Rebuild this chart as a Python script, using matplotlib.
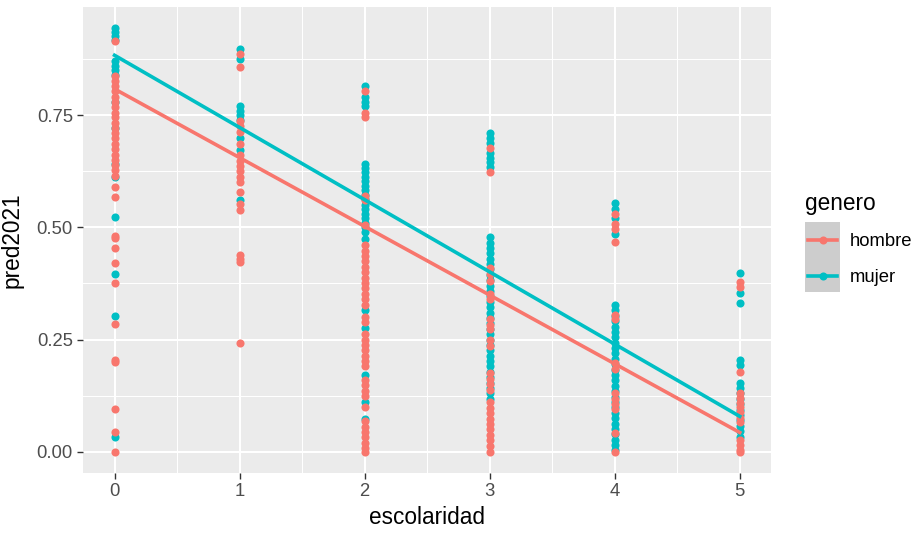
import numpy as np
import matplotlib.pyplot as plt
from matplotlib.patches import Rectangle
from matplotlib.lines import Line2D

plt.rcParams['font.family'] = ['Liberation Sans', 'DejaVu Sans']

# pred2021 values per escolaridad level
hombre_y = {
    0: [0.914, 0.836, 0.825, 0.815, 0.803, 0.79, 0.78, 0.768, 0.755, 0.745, 0.733,
        0.72, 0.71, 0.698, 0.686, 0.675, 0.662, 0.65, 0.638, 0.628, 0.615, 0.59, 0.567,
        0.48, 0.476, 0.453, 0.42, 0.375, 0.284, 0.204, 0.2, 0.096, 0.045, 0.0],
    1: [0.885, 0.856, 0.737, 0.725, 0.713, 0.685, 0.66, 0.648, 0.636, 0.625, 0.612,
        0.6, 0.578, 0.552, 0.538, 0.438, 0.43, 0.423, 0.243],
    2: [0.803, 0.755, 0.745, 0.57, 0.56, 0.505, 0.46, 0.448, 0.436, 0.424, 0.412,
        0.4, 0.388, 0.376, 0.364, 0.352, 0.34, 0.328, 0.3, 0.288, 0.262, 0.25, 0.238,
        0.226, 0.214, 0.202, 0.19, 0.16, 0.148, 0.136, 0.124, 0.1, 0.068, 0.056,
        0.044, 0.032, 0.02, 0.008, 0.0],
    3: [0.676, 0.622, 0.41, 0.395, 0.38, 0.352, 0.34, 0.295, 0.283, 0.273, 0.25,
        0.236, 0.176, 0.163, 0.15, 0.138, 0.11, 0.098, 0.086, 0.074, 0.062, 0.05,
        0.038, 0.026, 0.014, 0.0],
    4: [0.53, 0.507, 0.497, 0.468, 0.305, 0.295, 0.198, 0.185, 0.13, 0.118, 0.106,
        0.095, 0.042, 0.0],
    5: [0.378, 0.367, 0.178, 0.132, 0.12, 0.108, 0.1, 0.088, 0.076, 0.066, 0.027,
        0.015, 0.005, 0.0],
}
mujer_y = {
    0: [0.944, 0.935, 0.926, 0.918, 0.87, 0.86, 0.85, 0.84, 0.78, 0.72, 0.642,
        0.611, 0.522, 0.395, 0.302, 0.032],
    1: [0.898, 0.875, 0.771, 0.76, 0.75, 0.74, 0.698, 0.671, 0.56],
    2: [0.815, 0.79, 0.78, 0.77, 0.642, 0.632, 0.622, 0.612, 0.602, 0.592, 0.582,
        0.572, 0.562, 0.55, 0.54, 0.53, 0.52, 0.51, 0.5, 0.49, 0.475, 0.315, 0.275,
        0.171, 0.112, 0.072],
    3: [0.709, 0.698, 0.688, 0.665, 0.655, 0.645, 0.635, 0.478, 0.466, 0.454, 0.442,
        0.43, 0.418, 0.406, 0.394, 0.382, 0.37, 0.358, 0.346, 0.334, 0.322, 0.31,
        0.298, 0.286, 0.274, 0.262, 0.25, 0.238, 0.226, 0.214, 0.202, 0.19, 0.178,
        0.166, 0.154, 0.142, 0.13, 0.118],
    4: [0.553, 0.54, 0.52, 0.485, 0.327, 0.315, 0.303, 0.291, 0.279, 0.267, 0.255,
        0.243, 0.231, 0.219, 0.207, 0.195, 0.183, 0.171, 0.159, 0.147, 0.135, 0.123,
        0.111, 0.099, 0.087, 0.075, 0.063, 0.051, 0.039, 0.027, 0.015, 0.005],
    5: [0.398, 0.354, 0.331, 0.205, 0.194, 0.154, 0.142, 0.13, 0.118, 0.106, 0.094,
        0.082, 0.07, 0.058, 0.046, 0.034],
}

# fitted lines (lm) at escolaridad 0 and 5
fit_x = [0, 5]
hombre_fit = [0.808, 0.043]
mujer_fit = [0.883, 0.079]

groups = ['hombre', 'mujer']
colors = {'hombre': '#F8766D', 'mujer': '#00BFC4'}

W, H = 919, 536
fig = plt.figure(figsize=(W / 100, H / 100), dpi=100)
ax = fig.add_axes([83.3 / W, 1 - 473 / H, (771 - 83.3) / W, (473 - 6.7) / H])

ax.set_facecolor('#EBEBEB')
for s in ax.spines.values():
    s.set_visible(False)

ax.set_xlim(-0.25, 5.25)
ax.set_ylim(-0.0472, 0.9912)
ax.set_xticks([0, 1, 2, 3, 4, 5])
ax.set_yticks([0, 0.25, 0.5, 0.75])
ax.set_yticklabels(['0.00', '0.25', '0.50', '0.75'])
ax.set_xticks([0.5, 1.5, 2.5, 3.5, 4.5], minor=True)
ax.set_yticks([0.125, 0.375, 0.625, 0.875], minor=True)
ax.grid(which='major', color='white', lw=1.5)
ax.grid(which='minor', color='white', lw=0.75)
ax.set_axisbelow(True)
ax.tick_params(which='major', length=4, width=1, color='#333333',
               labelcolor='#4D4D4D', labelsize=13.3, pad=3.5)
ax.tick_params(which='minor', length=0)

# mujer first, hombre on top
for lvl, ys in mujer_y.items():
    ax.scatter([lvl] * len(ys), ys, s=34, color=colors['mujer'], lw=0, zorder=2)
for lvl, ys in hombre_y.items():
    ax.scatter([lvl] * len(ys), ys, s=34, color=colors['hombre'], lw=0, zorder=2)

ax.plot(fit_x, hombre_fit, color=colors['hombre'], lw=2.6, zorder=3)
ax.plot(fit_x, mujer_fit, color=colors['mujer'], lw=2.6, zorder=3)

ax.set_xlabel('escolaridad', fontsize=16.3, va='center')
ax.xaxis.set_label_coords(0.5, (473 - 518) / (473 - 6.7))
ax.set_ylabel('pred2021', fontsize=16.3, va='center')
ax.yaxis.set_label_coords((12 - 83.3) / (771 - 83.3), 0.5)

# legend, built by hand (ggplot look)
def fx(x):
    return x / W

def fy(y):
    return 1 - y / H

fig.text(fx(805), fy(203), 'genero', fontsize=16.3, va='center', ha='left')
fig.patches.append(Rectangle((fx(805), fy(291.7)), fx(840) - fx(805), fy(221.7) - fy(291.7),
                             transform=fig.transFigure, facecolor='#CDCDCD',
                             edgecolor='none'))
for i, g in enumerate(groups):
    yc = 240 + 35.5 * i
    fig.lines.append(Line2D([fx(808), fx(837)], [fy(yc), fy(yc)], transform=fig.transFigure,
                            color=colors[g], lw=2.6))
    fig.lines.append(Line2D([fx(822.5)], [fy(yc)], transform=fig.transFigure,
                            color=colors[g], marker='o', ms=5.8, mew=0))
    fig.text(fx(850), fy(yc + 2), g, fontsize=13.3, va='center', ha='left')

plt.savefig('out.png', dpi=100)
